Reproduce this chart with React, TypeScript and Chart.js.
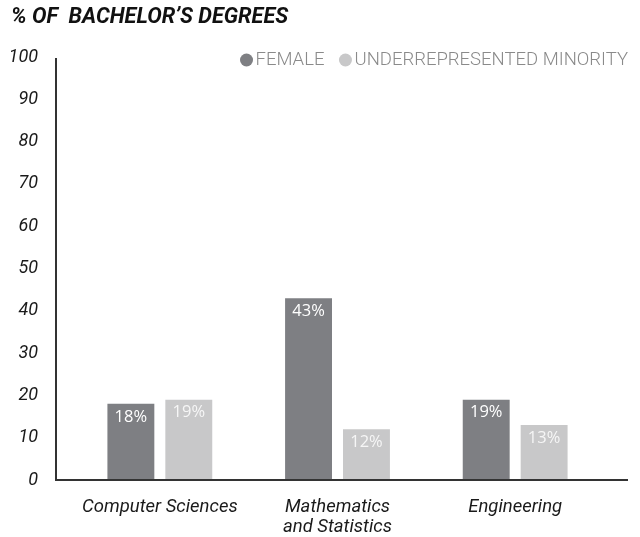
import React, { useEffect, useRef } from "react";
import { Chart, registerables } from "chart.js";

Chart.register(...registerables);

const categories: (string | string[])[] = ["Computer Sciences", ["Mathematics", "and Statistics"], "Engineering"];
const femaleValues = [18, 43, 19];
const urmValues = [19, 12, 13];
const femaleLabels = ["18%", "43%", "19%"];
const urmLabels = ["19%", "12%", "13%"];
const seriesNames = ["FEMALE", "UNDERREPRESENTED MINORITY"];
const yTicks = [0, 10, 20, 30, 40, 50, 60, 70, 80, 90, 100];

const DARK = "#7e7f83";
const LIGHT = "#c8c8c9";

const axisPlugin = {
  id: "axisLines",
  afterDatasetsDraw(chart: any) {
    const { ctx, chartArea } = chart;
    ctx.save();
    ctx.strokeStyle = "#333333";
    ctx.lineWidth = 2;
    ctx.beginPath();
    ctx.moveTo(chartArea.left - 15, chartArea.top + 1);
    ctx.lineTo(chartArea.left - 15, chartArea.bottom);
    ctx.lineTo(chartArea.right + 24, chartArea.bottom);
    ctx.stroke();
    ctx.restore();
  },
};

const labelPlugin = {
  id: "barLabels",
  afterDatasetsDraw(chart: any) {
    const { ctx } = chart;
    const labelSets = [femaleLabels, urmLabels];
    ctx.save();
    ctx.font = "500 16.5px 'Open Sans'";
    ctx.textAlign = "center";
    ctx.textBaseline = "middle";
    chart.data.datasets.forEach((_: any, di: number) => {
      const meta = chart.getDatasetMeta(di);
      meta.data.forEach((bar: any, i: number) => {
        ctx.fillStyle = di === 0 ? "#ffffff" : "#f6f6f6";
        ctx.fillText(labelSets[di][i], bar.x, bar.y + 13);
      });
    });
    ctx.restore();
  },
};

const legendPlugin = {
  id: "customLegend",
  afterDraw(chart: any) {
    const { ctx } = chart;
    ctx.save();
    ctx.font = "300 18.5px Roboto";
    ctx.textBaseline = "middle";
    const y = 60;
    const right = 628;
    const w1 = ctx.measureText(seriesNames[1]).width;
    const w0 = ctx.measureText(seriesNames[0]).width;
    const x1Text = right - w1;
    const x1Circle = x1Text - 9;
    const x0Text = x1Circle - 21 - w0;
    const x0Circle = x0Text - 9;
    ctx.fillStyle = DARK;
    ctx.beginPath();
    ctx.arc(x0Circle, y, 6.5, 0, Math.PI * 2);
    ctx.fill();
    ctx.fillStyle = LIGHT;
    ctx.beginPath();
    ctx.arc(x1Circle, y, 6.5, 0, Math.PI * 2);
    ctx.fill();
    ctx.fillStyle = "#8a8a8a";
    ctx.fillText(seriesNames[0], x0Text, y);
    ctx.fillText(seriesNames[1], x1Text, y);
    ctx.restore();
  },
};

export default function App() {
  const ref = useRef<HTMLCanvasElement>(null);
  useEffect(() => {
    document.body.style.margin = "0";
    const chart = new Chart(ref.current!, {
      type: "bar",
      data: {
        labels: categories as any,
        datasets: [
          { label: seriesNames[0], data: femaleValues, backgroundColor: DARK, barPercentage: 0.81, categoryPercentage: 0.652 },
          { label: seriesNames[1], data: urmValues, backgroundColor: LIGHT, barPercentage: 0.81, categoryPercentage: 0.652 },
        ],
      },
      options: {
        animation: false,
        responsive: false,
        layout: { padding: { left: 11, right: 36, top: 0, bottom: 0 } },
        plugins: {
          legend: { display: false },
          tooltip: { enabled: false },
          title: {
            display: true,
            text: "% OF  BACHELOR\u2019S DEGREES",
            align: "start",
            color: "#111111",
            font: { family: "Roboto", size: 21.7, weight: "bold", style: "italic", lineHeight: 1.2 },
            padding: { top: 4.2, bottom: 26.8 },
          },
        },
        scales: {
          x: {
            grid: { display: false, drawTicks: false },
            border: { display: false },
            ticks: {
              color: "#1a1a1a",
              padding: 17,
              maxRotation: 0,
              font: { family: "Roboto", size: 18.5, style: "italic", lineHeight: 1.1 },
            },
            afterFit: (s: any) => { s.height = 57; },
          },
          y: {
            min: 0,
            max: 100,
            grid: { display: false, drawTicks: false },
            border: { display: false },
            afterBuildTicks: (s: any) => { s.ticks = yTicks.map((v) => ({ value: v })); },
            ticks: {
              color: "#1a1a1a",
              padding: 33,
              font: { family: "Roboto", size: 18, style: "italic" },
            },
            afterFit: (s: any) => { s.width = 60; },
          },
        },
      },
      plugins: [axisPlugin, labelPlugin, legendPlugin],
    });
    return () => chart.destroy();
  }, []);
  return (
    <div style={{ width: 640, height: 537 }}>
      <canvas ref={ref} width={640} height={537} style={{ display: "block" }} />
    </div>
  );
}
